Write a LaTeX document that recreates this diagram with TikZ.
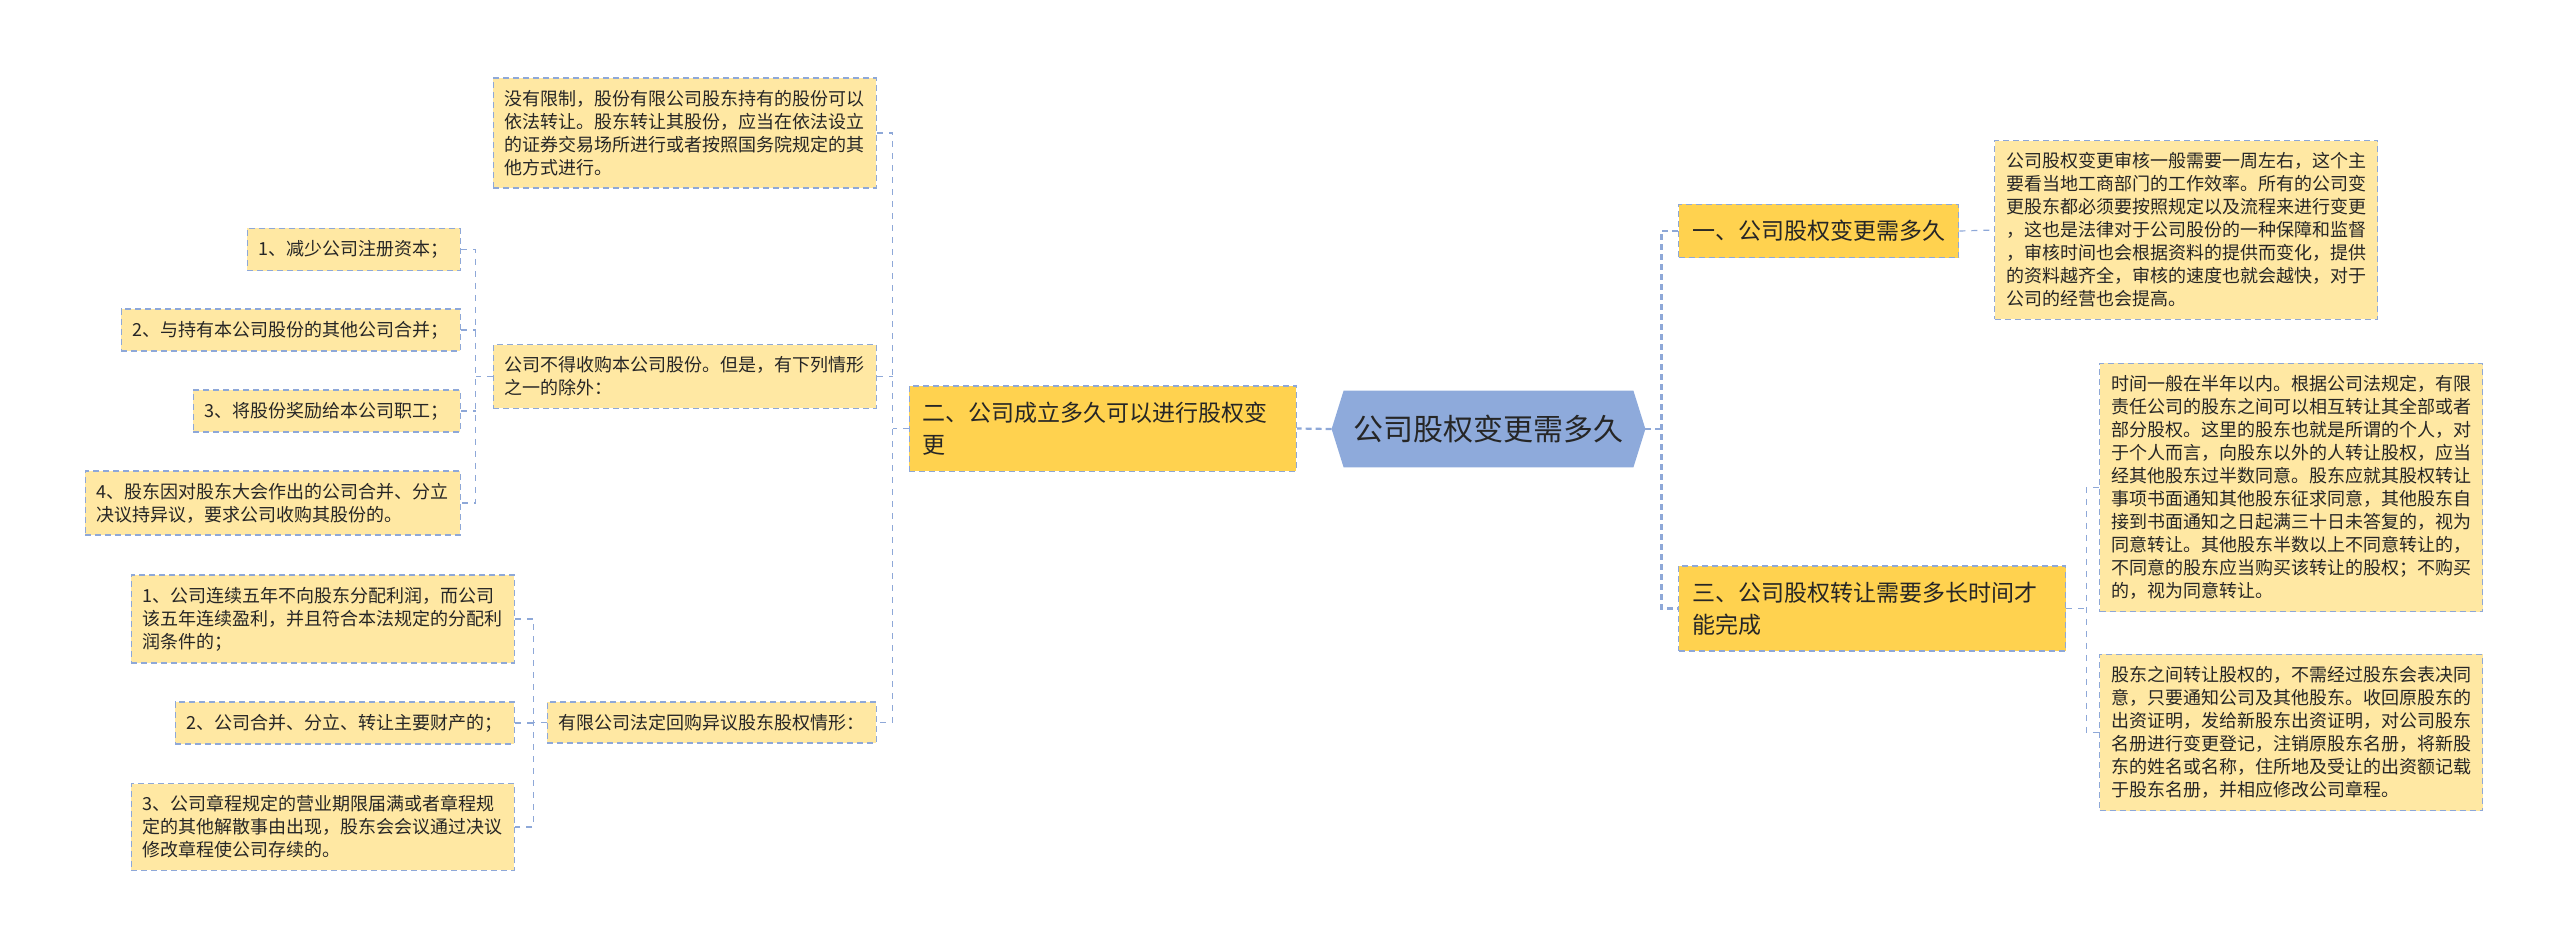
\documentclass[tikz,border=0pt]{standalone}
\usepackage{fontspec}
\setmainfont{Noto Sans CJK SC}
\usepackage{tikz}
\usetikzlibrary{positioning,calc,backgrounds}
\definecolor{rootblue}{HTML}{8EAADB}
\definecolor{lineblue}{HTML}{8EA8D8}
\definecolor{leafyellow}{HTML}{FFE8A3}
\definecolor{branchyellow}{HTML}{FFD24F}

\begin{document}
\begin{tikzpicture}[
    x=0.5pt, y=-0.5pt,
    root/.style={rectangle, minimum width=156.5pt, minimum height=38pt, inner sep=0pt, font=\fontsize{15pt}{18pt}\selectfont, text=black!85},
    branch/.style={rectangle, draw=lineblue, line width=0.7pt, dash pattern=on 3pt off 2pt, fill=branchyellow, font=\fontsize{11.5pt}{16pt}\selectfont, align=left, inner xsep=6.75pt, inner ysep=8pt, text=black!85},
    leaf/.style={rectangle, draw=lineblue, line width=0.7pt, dash pattern=on 3pt off 2pt, fill=leafyellow, font=\fontsize{9pt}{11.5pt}\selectfont, align=left, inner xsep=5.75pt, inner ysep=6pt, text=black!85},
    link/.style={draw=lineblue, line width=0.6pt, dash pattern=on 3pt off 3pt},
    mainlink/.style={draw=lineblue, line width=1.1pt, dash pattern=on 3pt off 2pt},
]
\useasboundingbox (0,0) rectangle (2560,949);
% ROOT
\node[root] (root) at (1488.5,429) {公司股权变更需多久};
\begin{scope}[on background layer]
    \fill[rootblue] (root.west) -- ([xshift=6pt]root.north west) -- ([xshift=-6pt]root.north east)
        -- (root.east) -- ([xshift=-6pt]root.south east) -- ([xshift=6pt]root.south west) -- cycle;
\end{scope}

% RIGHT SIDE
\node[branch, anchor=west] (b1) at (1678,231) {一、公司股权变更需多久};
\node[branch, anchor=west, text width=180pt] (b3) at (1678,608.5) {三、公司股权转让需要多长时间才\\能完成};
\node[leaf, anchor=west] (d1) at (1994,230) {公司股权变更审核一般需要一周左右，这个主\\要看当地工商部门的工作效率。所有的公司变\\更股东都必须要按照规定以及流程来进行变更\\，这也是法律对于公司股份的一种保障和监督\\，审核时间也会根据资料的提供而变化，提供\\的资料越齐全，审核的速度也就会越快，对于\\公司的经营也会提高。};
\node[leaf, anchor=west] (d2) at (2099,487.5) {时间一般在半年以内。根据公司法规定，有限\\责任公司的股东之间可以相互转让其全部或者\\部分股权。这里的股东也就是所谓的个人，对\\于个人而言，向股东以外的人转让股权，应当\\经其他股东过半数同意。股东应就其股权转让\\事项书面通知其他股东征求同意，其他股东自\\接到书面通知之日起满三十日未答复的，视为\\同意转让。其他股东半数以上不同意转让的，\\不同意的股东应当购买该转让的股权；不购买\\的，视为同意转让。};
\node[leaf, anchor=west] (d3) at (2099,732.5) {股东之间转让股权的，不需经过股东会表决同\\意，只要通知公司及其他股东。收回原股东的\\出资证明，发给新股东出资证明，对公司股东\\名册进行变更登记，注销原股东名册，将新股\\东的姓名或名称，住所地及受让的出资额记载\\于股东名册，并相应修改公司章程。};

% LEFT SIDE
\node[branch, anchor=east, text width=180pt] (b2) at (1297,428.5) {二、公司成立多久可以进行股权变\\更};
\node[leaf, anchor=east] (L1) at (877,133) {没有限制，股份有限公司股东持有的股份可以\\依法转让。股东转让其股份，应当在依法设立\\的证券交易场所进行或者按照国务院规定的其\\他方式进行。};
\node[leaf, anchor=east] (L2) at (877,376.5) {公司不得收购本公司股份。但是，有下列情形\\之一的除外：};
\node[leaf, anchor=east] (L3) at (877,722.5) {有限公司法定回购异议股东股权情形：};
\node[leaf, anchor=east] (a1) at (461,249.5) {1、减少公司注册资本；};
\node[leaf, anchor=east] (a2) at (461,330) {2、与持有本公司股份的其他公司合并；};
\node[leaf, anchor=east] (a3) at (461,411) {3、将股份奖励给本公司职工；};
\node[leaf, anchor=east] (a4) at (461,503) {4、股东因对股东大会作出的公司合并、分立\\决议持异议，要求公司收购其股份的。};
\node[leaf, anchor=east] (c1) at (515,619) {1、公司连续五年不向股东分配利润，而公司\\该五年连续盈利，并且符合本法规定的分配利\\润条件的；};
\node[leaf, anchor=east] (c2) at (515,723) {2、公司合并、分立、转让主要财产的；};
\node[leaf, anchor=east] (c3) at (515,827) {3、公司章程规定的营业期限届满或者章程规\\定的其他解散事由出现，股东会会议通过决议\\修改章程使公司存续的。};

% Verbindungen
\draw[mainlink] (root.east) -- ++(8pt,0) coordinate (jr);
\draw[mainlink] (b1.west) -| (jr) |- (b3.west);
\draw[mainlink] (root.west) -- (b2.east);
\draw[link] (b1.east) -- (d1.west);
\draw[link] (b3.east) -- ++(10pt,0) coordinate (j3);
\draw[link] (d2.west) -| (j3) |- (d3.west);
\draw[link] (b2.west) -- ++(-8pt,0) coordinate (j2);
\draw[link] (L1.east) -| (j2) |- (L3.east);
\draw[link] (L2.east) -- (L2.east -| j2);
\draw[link] (L2.west) -- ++(-8.5pt,0) coordinate (ja);
\draw[link] (a1.east) -| (ja) |- (a4.east);
\draw[link] (a2.east) -- (a2.east -| ja);
\draw[link] (a3.east) -- (a3.east -| ja);
\draw[link] (L3.west) -- ++(-6.5pt,0) coordinate (jc);
\draw[link] (c1.east) -| (jc) |- (c3.east);
\draw[link] (c2.east) -- (c2.east -| jc);
\end{tikzpicture}
\end{document}
